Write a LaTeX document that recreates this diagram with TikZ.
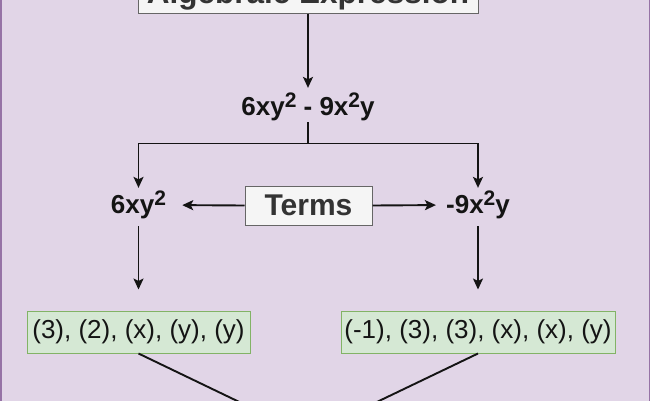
\documentclass[tikz,border=0pt]{standalone}
\usepackage{fontspec}
\setmainfont{Liberation Sans}
\usetikzlibrary{arrows.meta}
\definecolor{bgfill}{HTML}{E1D5E7}
\definecolor{bgline}{HTML}{9673A6}
\definecolor{boxfill}{HTML}{F5F5F5}
\definecolor{boxline}{HTML}{666666}
\definecolor{boxtext}{HTML}{333333}
\definecolor{grfill}{HTML}{D5E8D4}
\definecolor{grline}{HTML}{82B366}
\newcommand{\upsc}[1]{\raisebox{7.8pt}{\fontsize{21}{21}\selectfont #1}}
\tikzset{
 graybox/.style={draw=boxline, fill=boxfill, line width=1pt, text=boxtext, inner sep=0pt},
 mathlabel/.style={font=\bfseries\fontsize{26}{30}\selectfont, inner sep=0pt, text=black!92},
 greenbox/.style={draw=grline, fill=grfill, line width=1pt, font=\fontsize{26}{30}\selectfont, inner sep=0pt, minimum height=42pt, text=black!92},
 conn/.style={line width=1.9pt, draw=black!92},
 arr/.style={conn, -{Stealth[length=11pt,width=10pt,inset=2.5pt]}},
}
\begin{document}
\begin{tikzpicture}[x=1pt,y=-1pt]
\useasboundingbox (0,0) rectangle (650,400);
\clip (0,0) rectangle (650,400);
\fill[bgfill] (0,-20) rectangle (650,420);
\draw[bgline, line width=1.5pt] (0.75,-20) rectangle (649.25,420);
\node[graybox, font=\bfseries\fontsize{31.5}{36}\selectfont, minimum width=340pt, minimum height=36pt] (alg) at (308,-5) {Algebraic Expression};
\node[mathlabel] (expr) at (308,107) {6xy\upsc{2} - 9x\upsc{2}y};
\coordinate (split) at (308,143.5);
\node[mathlabel] (c) at (138.5,205) {6xy\upsc{2}};
\node[mathlabel] (d) at (478,205) {-9x\upsc{2}y};
\node[graybox, font=\bfseries\fontsize{30}{34}\selectfont, minimum width=127pt, minimum height=39pt] (terms) at (308.5,205.5) {Terms};
\node[greenbox, minimum width=223pt] (g1) at (138.5,332) {(3), (2), (x), (y), (y)};
\node[greenbox, minimum width=274pt] (g2) at (478,332) {(-1), (3), (3), (x), (x), (y)};
\coordinate (bottom) at (308,435);
\draw[arr, shorten >=5pt] (alg.south) -- (expr.north);
\draw[conn, shorten <=1pt] (expr.south) -- (split);
\draw[arr, shorten >=3pt] (split) -| (c.north);
\draw[arr, shorten >=3pt] (split) -| (d.north);
\draw[arr, shorten >=16pt] (terms.west) -- (c.east);
\draw[arr, shorten >=10pt] (terms.east) -- (d.west);
\draw[arr, shorten <=7pt, shorten >=21pt] (c.south) -- (g1.north);
\draw[arr, shorten <=7pt, shorten >=21pt] (d.south) -- (g2.north);
\draw[conn] (g1.south) -- (bottom);
\draw[conn] (g2.south) -- (bottom);
\end{tikzpicture}
\end{document}
